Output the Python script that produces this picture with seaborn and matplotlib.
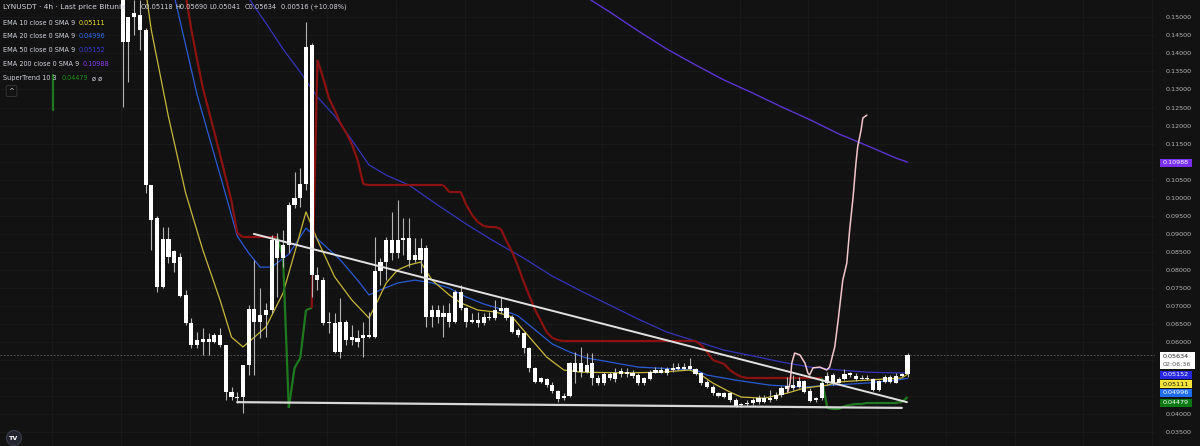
import numpy as np
import seaborn as sns
import matplotlib.pyplot as plt
from matplotlib.collections import LineCollection
from matplotlib.patches import Rectangle

# ---- 4h candles (LYNUSDT, Bitunix) ----
opens = [0.1562, 0.1432, 0.1501, 0.1506, 0.1465, 0.1035, 0.0944, 0.0753, 0.0886, 0.0819,
         0.0836, 0.0731, 0.0653, 0.0592, 0.0601, 0.0609, 0.0601, 0.0620, 0.0592, 0.0462,
         0.0448, 0.0448, 0.0537, 0.0692, 0.0656, 0.0675, 0.0689, 0.0883, 0.0833, 0.0869,
         0.0980, 0.0999, 0.1038, 0.1423, 0.0786, 0.0772, 0.0653, 0.0653, 0.0573, 0.0656,
         0.0606, 0.0612, 0.0612, 0.0614, 0.0614, 0.0797, 0.0822, 0.0883, 0.0847, 0.0883,
         0.0889, 0.0828, 0.0828, 0.0861, 0.0670, 0.0689, 0.0670, 0.0681, 0.0656, 0.0739,
         0.0695, 0.0656, 0.0662, 0.0653, 0.0670, 0.0667, 0.0686, 0.0695, 0.0670, 0.0634,
         0.0625, 0.0584, 0.0529, 0.0490, 0.0498, 0.0482, 0.0465, 0.0445, 0.0451, 0.0542,
         0.0517, 0.0537, 0.0542, 0.0501, 0.0487, 0.0512, 0.0498, 0.0512, 0.0517, 0.0515,
         0.0509, 0.0487, 0.0498, 0.0515, 0.0523, 0.0515, 0.0523, 0.0526, 0.0531, 0.0526,
         0.0526, 0.0515, 0.0490, 0.0476, 0.0460, 0.0448, 0.0460, 0.0440, 0.0426, 0.0429,
         0.0432, 0.0434, 0.0434, 0.0440, 0.0443, 0.0454, 0.0471, 0.0473, 0.0476, 0.0493,
         0.0465, 0.0440, 0.0445, 0.0487, 0.0509, 0.0487, 0.0498, 0.0509, 0.0506, 0.0498,
         0.0501, 0.0498, 0.0468, 0.0490, 0.0490, 0.0487, 0.0506, 0.05118]
highs = [0.1590, 0.1501, 0.1548, 0.1548, 0.1470, 0.1035, 0.0950, 0.0919, 0.0919, 0.0855,
         0.0847, 0.0745, 0.0667, 0.0628, 0.0639, 0.0625, 0.0625, 0.0639, 0.0592, 0.0476,
         0.0462, 0.0537, 0.0703, 0.0828, 0.0750, 0.0709, 0.0897, 0.0903, 0.0911, 0.0988,
         0.1072, 0.1083, 0.1487, 0.1429, 0.0808, 0.0781, 0.0684, 0.0681, 0.0723, 0.0662,
         0.0648, 0.0634, 0.0656, 0.0684, 0.0891, 0.0833, 0.0891, 0.0961, 0.0994, 0.0944,
         0.0944, 0.0889, 0.0889, 0.0869, 0.0703, 0.0703, 0.0703, 0.0709, 0.0745, 0.0759,
         0.0698, 0.0681, 0.0684, 0.0681, 0.0684, 0.0717, 0.0723, 0.0698, 0.0675, 0.0639,
         0.0628, 0.0587, 0.0531, 0.0503, 0.0501, 0.0490, 0.0468, 0.0460, 0.0545, 0.0573,
         0.0587, 0.0570, 0.0570, 0.0509, 0.0517, 0.0517, 0.0529, 0.0529, 0.0529, 0.0523,
         0.0515, 0.0503, 0.0523, 0.0531, 0.0531, 0.0531, 0.0542, 0.0542, 0.0542, 0.0556,
         0.0529, 0.0517, 0.0495, 0.0482, 0.0462, 0.0462, 0.0462, 0.0445, 0.0432, 0.0440,
         0.0445, 0.0454, 0.0454, 0.0468, 0.0462, 0.0479, 0.0503, 0.0509, 0.0503, 0.0495,
         0.0473, 0.0448, 0.0495, 0.0517, 0.0515, 0.0503, 0.0526, 0.0517, 0.0515, 0.0509,
         0.0509, 0.0501, 0.0495, 0.0509, 0.0509, 0.0515, 0.0515, 0.05690]
lows = [0.1252, 0.1321, 0.1451, 0.1409, 0.1013, 0.0855, 0.0739, 0.0750, 0.0819, 0.0795,
        0.0725, 0.0648, 0.0584, 0.0584, 0.0565, 0.0565, 0.0598, 0.0587, 0.0440, 0.0440,
        0.0432, 0.0404, 0.0509, 0.0509, 0.0612, 0.0614, 0.0681, 0.0725, 0.0808, 0.0847,
        0.0972, 0.0974, 0.1021, 0.0725, 0.0745, 0.0648, 0.0625, 0.0570, 0.0556, 0.0592,
        0.0592, 0.0587, 0.0559, 0.0612, 0.0612, 0.0759, 0.0772, 0.0828, 0.0833, 0.0842,
        0.0808, 0.0822, 0.0792, 0.0642, 0.0642, 0.0653, 0.0614, 0.0642, 0.0653, 0.0689,
        0.0642, 0.0653, 0.0642, 0.0648, 0.0662, 0.0662, 0.0681, 0.0662, 0.0625, 0.0614,
        0.0570, 0.0517, 0.0487, 0.0487, 0.0476, 0.0460, 0.0434, 0.0440, 0.0448, 0.0487,
        0.0503, 0.0515, 0.0482, 0.0482, 0.0482, 0.0495, 0.0490, 0.0503, 0.0503, 0.0501,
        0.0482, 0.0482, 0.0495, 0.0515, 0.0515, 0.0509, 0.0517, 0.0523, 0.0523, 0.0523,
        0.0509, 0.0482, 0.0473, 0.0454, 0.0448, 0.0445, 0.0434, 0.0421, 0.0421, 0.0423,
        0.0426, 0.0429, 0.0432, 0.0434, 0.0440, 0.0448, 0.0462, 0.0468, 0.0473, 0.0460,
        0.0434, 0.0434, 0.0440, 0.0484, 0.0482, 0.0487, 0.0495, 0.0503, 0.0493, 0.0498,
        0.0495, 0.0465, 0.0465, 0.0487, 0.0487, 0.0487, 0.0503, 0.05041]
closes = [0.1432, 0.1501, 0.1512, 0.1465, 0.1035, 0.0939, 0.0753, 0.0886, 0.0836, 0.0853,
          0.0728, 0.0653, 0.0592, 0.0606, 0.0609, 0.0601, 0.0620, 0.0592, 0.0462, 0.0448,
          0.0445, 0.0537, 0.0692, 0.0656, 0.0675, 0.0689, 0.0883, 0.0833, 0.0869, 0.0980,
          0.0999, 0.1038, 0.1418, 0.0786, 0.0772, 0.0653, 0.0656, 0.0573, 0.0656, 0.0606,
          0.0614, 0.0601, 0.0620, 0.0620, 0.0797, 0.0822, 0.0883, 0.0847, 0.0883, 0.0889,
          0.0828, 0.0842, 0.0861, 0.0670, 0.0689, 0.0670, 0.0681, 0.0656, 0.0739, 0.0695,
          0.0656, 0.0662, 0.0653, 0.0670, 0.0667, 0.0689, 0.0695, 0.0667, 0.0628, 0.0620,
          0.0584, 0.0529, 0.0490, 0.0501, 0.0482, 0.0465, 0.0443, 0.0451, 0.0542, 0.0517,
          0.0542, 0.0517, 0.0501, 0.0487, 0.0512, 0.0501, 0.0515, 0.0520, 0.0512, 0.0506,
          0.0487, 0.0501, 0.0517, 0.0523, 0.0515, 0.0526, 0.0529, 0.0531, 0.0526, 0.0534,
          0.0512, 0.0487, 0.0476, 0.0460, 0.0451, 0.0460, 0.0440, 0.0423, 0.0429, 0.0432,
          0.0440, 0.0445, 0.0445, 0.0445, 0.0454, 0.0473, 0.0479, 0.0482, 0.0493, 0.0462,
          0.0437, 0.0445, 0.0487, 0.0506, 0.0487, 0.0498, 0.0512, 0.0515, 0.0498, 0.0501,
          0.0498, 0.0468, 0.0493, 0.0503, 0.0503, 0.0506, 0.0512, 0.05634]

# ---- indicators at candle positions ----
ema10_idx = [4, 5, 8, 11, 14, 17, 19, 21, 23, 25, 28, 30, 32, 34, 37, 40, 43, 44, 46, 48,
             50, 52, 54, 57, 59, 62, 65, 68, 71, 74, 77, 80, 88, 94, 99, 101, 103, 106, 108, 112,
             116, 119, 123, 125, 130, 136, 137]
ema10_val = [0.1576, 0.1465, 0.1224, 0.1013, 0.0855, 0.0717, 0.0614, 0.0587, 0.0614, 0.0642,
             0.0736, 0.0847, 0.0961, 0.0883, 0.0781, 0.0717, 0.0667, 0.0698, 0.0764, 0.0800,
             0.0814, 0.0822, 0.0772, 0.0731, 0.0709, 0.0689, 0.0684, 0.0670, 0.0614, 0.0559,
             0.0523, 0.0517, 0.0515, 0.0517, 0.0523, 0.0509, 0.0487, 0.0462, 0.0448, 0.0445,
             0.0459, 0.0473, 0.0481, 0.0490, 0.0495, 0.0501, 0.05111]

ema20_idx = [9, 13, 15, 18, 20, 22, 24, 26, 29, 32, 34, 38, 41, 43, 45, 48, 51, 54, 57, 60,
             63, 66, 69, 72, 75, 78, 81, 84, 90, 100, 102, 107, 113, 119, 124, 130, 135, 137]
ema20_val = [0.1560, 0.1285, 0.1174, 0.1008, 0.0894, 0.0847, 0.0808, 0.0808, 0.0844, 0.0916,
             0.0886, 0.0828, 0.0772, 0.0731, 0.0745, 0.0764, 0.0772, 0.0764, 0.0750, 0.0725,
             0.0706, 0.0692, 0.0673, 0.0634, 0.0595, 0.0573, 0.0556, 0.0548, 0.0531, 0.0523,
             0.0509, 0.0495, 0.0481, 0.0476, 0.0481, 0.0487, 0.0495, 0.04996]

ema50_idx = [20, 22, 25, 28, 31, 34, 37, 40, 43, 46, 50, 55, 60, 65, 70, 75, 80, 85, 90, 95,
             100, 105, 110, 115, 120, 125, 130, 135, 137]
ema50_val = [0.1600, 0.1553, 0.1484, 0.1412, 0.1348, 0.1279, 0.1227, 0.1160, 0.1091, 0.1063,
             0.1035, 0.0980, 0.0927, 0.0878, 0.0833, 0.0783, 0.0742, 0.0703, 0.0664, 0.0628,
             0.0603, 0.0578, 0.0562, 0.0545, 0.0531, 0.0523, 0.0517, 0.0515, 0.05152]

ema200_idx = [80, 85, 90, 95, 100, 105, 110, 115, 120, 125, 130, 135, 137]
ema200_val = [0.1565, 0.1515, 0.1462, 0.1412, 0.1368, 0.1326, 0.1290, 0.1252, 0.1216, 0.1177,
              0.1144, 0.1110, 0.10988]

st_idx = list(range(10, 138))
st_val = [0.1603, 0.1562, 0.1465, 0.1382, 0.1304, 0.1243, 0.1182, 0.1119, 0.1055, 0.0991,
          0.0902, 0.0891, 0.0891, 0.0891, 0.0891, 0.0891, 0.0891, 0.0891, 0.0833, 0.0418,
          0.0529, 0.0556, 0.0689, 0.0695, 0.1382, 0.1332, 0.1276, 0.1243, 0.1207, 0.1180,
          0.1149, 0.1105, 0.1038, 0.1035, 0.1035, 0.1035, 0.1035, 0.1035, 0.1035, 0.1035,
          0.1035, 0.1035, 0.1035, 0.1035, 0.1035, 0.1035, 0.1035, 0.1016, 0.1016, 0.1016,
          0.0980, 0.0952, 0.0933, 0.0922, 0.0919, 0.0919, 0.0914, 0.0880, 0.0850, 0.0811,
          0.0767, 0.0728, 0.0689, 0.0659, 0.0628, 0.0612, 0.0606, 0.0603, 0.0603, 0.0603,
          0.0603, 0.0603, 0.0603, 0.0603, 0.0603, 0.0603, 0.0603, 0.0603, 0.0603, 0.0603,
          0.0603, 0.0603, 0.0603, 0.0603, 0.0603, 0.0603, 0.0603, 0.0603, 0.0603, 0.0603,
          0.0603, 0.0592, 0.0573, 0.0551, 0.0545, 0.0540, 0.0523, 0.0512, 0.0504, 0.0501,
          0.0501, 0.0501, 0.0501, 0.0501, 0.0501, 0.0501, 0.0501, 0.0501, 0.0501, 0.0501,
          0.0501, 0.0501, 0.0501, 0.0418, 0.0415, 0.0415, 0.0423, 0.0426, 0.0429, 0.0429,
          0.0432, 0.0432, 0.0432, 0.0432, 0.0432, 0.0432, 0.0434, 0.04479]
# 1 = up trend (green), 0 = down trend (red)
st_up = [0, 0, 0, 0, 0, 0, 0, 0, 0, 0, 0, 0, 0, 0, 0, 0, 0, 0, 1, 1,
         1, 1, 1, 1, 0, 0, 0, 0, 0, 0, 0, 0, 0, 0, 0, 0, 0, 0, 0, 0,
         0, 0, 0, 0, 0, 0, 0, 0, 0, 0, 0, 0, 0, 0, 0, 0, 0, 0, 0, 0,
         0, 0, 0, 0, 0, 0, 0, 0, 0, 0, 0, 0, 0, 0, 0, 0, 0, 0, 0, 0,
         0, 0, 0, 0, 0, 0, 0, 0, 0, 0, 0, 0, 0, 0, 0, 0, 0, 0, 0, 0,
         0, 0, 0, 0, 0, 0, 0, 0, 0, 0, 0, 0, 0, 1, 1, 1, 1, 1, 1, 1,
         1, 1, 1, 1, 1, 1, 1, 1]
# stray up-trend fragment left of the loaded candles (under the legend)
st_early_idx = [-12.2, -12.2]
st_early_val = [0.1340, 0.1243]

# drawings: two trend lines and a hand-drawn path
upper_tl_idx = [22.9, 136.9]
upper_tl_val = [0.0900, 0.0434]
lower_tl_idx = [20.0, 136.0]
lower_tl_val = [0.0434, 0.0418]
brush_idx = [116.1, 116.5, 116.8, 117.3, 118.2, 119.1, 119.6, 119.9, 120.5, 121.7, 122.9, 123.4,
             124.3, 124.9, 125.7, 126.4, 126.9, 127.5, 128.0, 128.3, 128.9, 129.2, 129.9]
brush_val = [0.0462, 0.0487, 0.0542, 0.0570, 0.0565, 0.0542, 0.0515, 0.0509, 0.0529, 0.0531,
             0.0523, 0.0531, 0.0587, 0.0662, 0.0772, 0.0819, 0.0911, 0.1002, 0.1096, 0.1141,
             0.1188, 0.1221, 0.1229]

# price-scale labels covered by the value tags
hidden_ticks = [0.045, 0.050, 0.055, 0.110]

BG = '#121212'
sns.set_theme(style="dark", rc={"axes.facecolor": BG, "figure.facecolor": BG})
plt.rcParams['font.family'] = ['DejaVu Sans']

fig = plt.figure(figsize=(12, 4.46), dpi=100)
ax = fig.add_axes([0, 0, 1155 / 1200, 1])
ax.set_facecolor(BG)

# grid
yt = np.round(np.arange(0.035, 0.1551, 0.005), 3)
ax.set_yticks(yt)
ax.set_xticks(np.arange(-12.3, 181, 12))
ax.grid(True, color='#1b1b1b', lw=0.6)
ax.set_axisbelow(True)

# indicators
sns.lineplot(x=ema200_idx, y=ema200_val, ax=ax, color='#5b34d0', lw=1.0, sort=False, zorder=2)
sns.lineplot(x=ema50_idx, y=ema50_val, ax=ax, color='#3434b8', lw=0.9, sort=False, zorder=2)
sns.lineplot(x=ema20_idx, y=ema20_val, ax=ax, color='#2a5bd4', lw=0.9, sort=False, zorder=2)
sns.lineplot(x=ema10_idx, y=ema10_val, ax=ax, color='#c9b73a', lw=0.9, sort=False, zorder=2)

segs = [[(st_idx[i - 1], st_val[i - 1]), (st_idx[i], st_val[i])] for i in range(1, len(st_idx))]
cols = ['#1f7a1f' if st_up[i] else '#8c1111' for i in range(1, len(st_idx))]
ax.add_collection(LineCollection(segs, colors=cols, linewidths=1.6, zorder=2))
ax.plot(st_early_idx, st_early_val, color='#1f7a1f', lw=1.6, zorder=2)

# candles
x = np.arange(len(closes))
o = np.array(opens)
c = np.array(closes)
body_lo = np.minimum(o, c)
body_h = np.maximum(np.abs(c - o), 0.0003)
ax.vlines(x, lows, highs, color='#b5b5b5', lw=0.8, zorder=3)
ax.bar(x, body_h, bottom=body_lo, width=0.72, color='white', linewidth=0, zorder=3)

# drawings
sns.lineplot(x=upper_tl_idx, y=upper_tl_val, ax=ax, color='#e2e2e2', lw=1.4, sort=False, zorder=4)
sns.lineplot(x=lower_tl_idx, y=lower_tl_val, ax=ax, color='#d8d8d8', lw=1.6, sort=False, zorder=4)
sns.lineplot(x=brush_idx, y=brush_val, ax=ax, color='#f2c6cc', lw=1.1, sort=False, zorder=4)

ax.axhline(closes[-1], color='#5e5e5e', lw=0.6, ls=(0, (2, 2)), zorder=1)

ax.set_xlim(-21.41, 180.2)
ax.set_ylim(0.03125, 0.15479)
ax.yaxis.tick_right()
ax.set_yticklabels(['' if v in hidden_ticks else f"{v:.5f}" for v in yt])
ax.tick_params(axis='y', length=0, pad=8, labelsize=4.6, colors='#b8b8b8')
ax.tick_params(axis='x', length=0, labelbottom=False)
ax.set_xlabel('')
ax.set_ylabel('')
for s in ax.spines.values():
    s.set_visible(False)


def fy(py):
    return 1 - py / 446


# price scale tags
def tag(ytop, ybot, txt, fc, tc, w=32):
    fig.patches.append(Rectangle((1160 / 1200, fy(ybot)), w / 1200, (ybot - ytop) / 446,
                                 transform=fig.transFigure, fc=fc, ec='none', zorder=5))
    fig.text(1163 / 1200, fy((ytop + ybot) / 2), txt, fontsize=4.6, color=tc,
             ha='left', va='center', zorder=6)


tag(159, 167, f"{ema200_val[-1]:.5f}", '#7b2ff0', 'white')
fig.patches.append(Rectangle((1160 / 1200, fy(369)), 35 / 1200, 17 / 446,
                             transform=fig.transFigure, fc='white', ec='none', zorder=5))
fig.text(1163 / 1200, fy(356), f"{closes[-1]:.5f}", fontsize=4.6, color='#222222',
         va='center', zorder=6)
fig.text(1163 / 1200, fy(365), "02:06:36", fontsize=4.6, color='#555555',
         va='center', zorder=6)
tag(371, 379, f"{ema50_val[-1]:.5f}", '#2727e0', 'white')
tag(380, 388, f"{ema10_val[-1]:.5f}", '#f5e43a', '#111111')
tag(389, 397, f"{ema20_val[-1]:.5f}", '#1f6cec', 'white')
tag(399, 407, f"{st_val[-1]:.5f}", '#0b7a12', 'white')

# header / legend
txt_c = '#d1d4dc'
fig.text(3 / 1200, fy(7), "LYNUSDT · 4h · Last price Bitunix", fontsize=5.4, color=txt_c, va='center')
chg = closes[-1] - opens[-1]
ohlc = [(141, f"O{opens[-1]:.5f}"), (175, f"H{highs[-1]:.5f}"), (209, f"L{lows[-1]:.5f}"),
        (245, f"C{closes[-1]:.5f}"), (281, f"{chg:.5f} (+{chg / opens[-1] * 100:.2f}%)")]
for px, s in ohlc:
    fig.text(px / 1200, fy(7), s, fontsize=4.8, color=txt_c, va='center')

rows = [(22.7, "EMA 10 close 0 SMA 9", 79, f"{ema10_val[-1]:.5f}", '#f0e030'),
        (36, "EMA 20 close 0 SMA 9", 79, f"{ema20_val[-1]:.5f}", '#2e6bf0'),
        (50, "EMA 50 close 0 SMA 9", 79, f"{ema50_val[-1]:.5f}", '#3b3bd6'),
        (64, "EMA 200 close 0 SMA 9", 83, f"{ema200_val[-1]:.5f}", '#8a3cf0'),
        (78.3, "SuperTrend 10 3", 62, f"{st_val[-1]:.5f}", '#1e8c1e')]
for py, lab, vx, val, vc in rows:
    fig.text(3 / 1200, fy(py), lab, fontsize=4.7, color=txt_c, va='center', zorder=6)
    fig.text(vx / 1200, fy(py), val, fontsize=4.7, color=vc, va='center', zorder=6)
fig.text(92 / 1200, fy(78.3), "ø ø", fontsize=4.7, color=txt_c, va='center')
fig.text(11.5 / 1200, fy(91), "^", fontsize=5, color=txt_c, ha='center', va='center',
         bbox=dict(boxstyle='round,pad=0.35,rounding_size=0.2', fc=BG, ec='#3a3a3a', lw=0.6))

# logo
fig.text(14 / 1200, fy(438), "TV", fontsize=4.6, fontweight='bold', color='white',
         ha='center', va='center',
         bbox=dict(boxstyle='circle,pad=0.45', fc='#22252e', ec='#3a3d48', lw=0.8))

fig.savefig('out.png', dpi=100, facecolor=BG)
